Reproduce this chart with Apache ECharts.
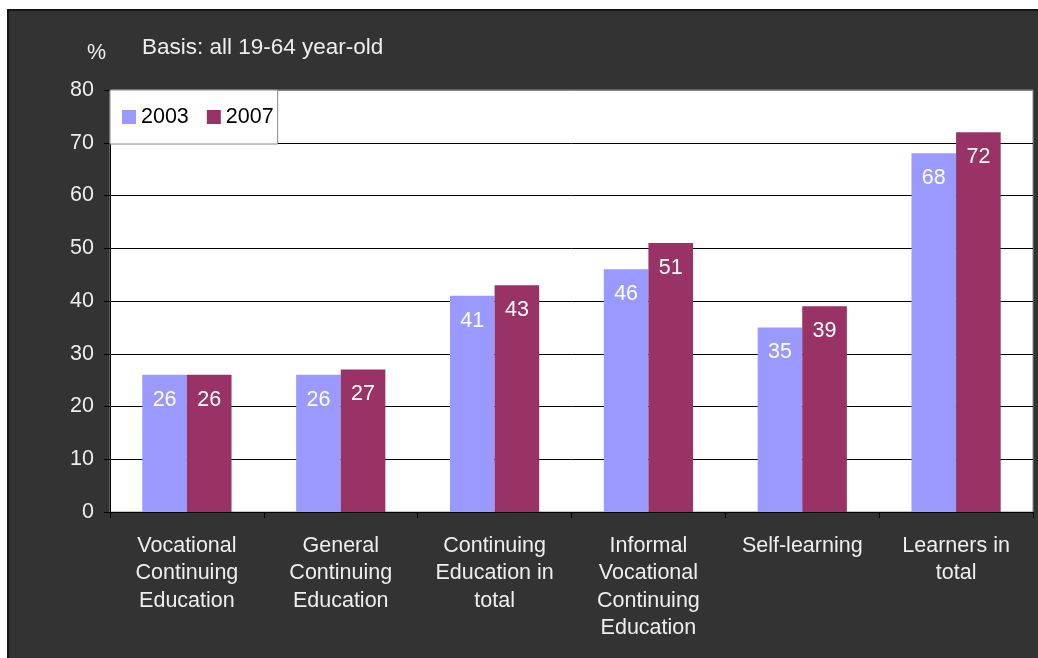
<!DOCTYPE html>
<html>
<head>
<meta charset="utf-8">
<script src="https://cdn.jsdelivr.net/npm/echarts@6/dist/echarts.min.js"></script>
<style>
  html, body { margin: 0; padding: 0; background: #ffffff; }
  #frame {
    position: absolute; left: 7px; top: 9px; width: 1031px; height: 649px;
    background: #333333; border-left: 2px solid #151515; border-top: 2px solid #151515;
  }
  #chart { position: absolute; left: 0; top: 0; width: 1038px; height: 658px; }
</style>
</head>
<body>
<div id="frame"></div>
<div id="chart"></div>
<script>
// Participation in learning, share of all 19-64 year-olds (%)
const categories = [
  'Vocational\nContinuing\nEducation',
  'General\nContinuing\nEducation',
  'Continuing\nEducation in\ntotal',
  'Informal\nVocational\nContinuing\nEducation',
  'Self-learning',
  'Learners in\ntotal'
];
const values2003 = [26, 26, 41, 46, 35, 68];
const values2007 = [26, 27, 43, 51, 39, 72];
const seriesNames = ['2003', '2007'];
const yTicks = { min: 0, max: 80, interval: 10 };

const FONT = 'Liberation Sans, Arial, sans-serif';
const LIGHT = '#eeeeee';

// gridlines are black; the one on the top edge is the grey plot border
const gridLineColors = ['#000000', '#000000', '#000000', '#000000', '#000000',
                        '#000000', '#000000', '#000000', '#888888'];

const chart = echarts.init(document.getElementById('chart'), null, { renderer: 'canvas' });

const barLabel = {
  show: true,
  position: 'insideTop',
  distance: 14,
  color: '#ffffff',
  fontSize: 21.5,
  fontFamily: FONT
};

chart.setOption({
  backgroundColor: 'transparent',
  animation: false,
  textStyle: { fontFamily: FONT },
  title: [
    { text: '%', left: 82, top: 37, textStyle: { color: LIGHT, fontSize: 21.5, fontWeight: 'normal', fontFamily: FONT } },
    { text: 'Basis: all 19-64 year-old', left: 137, top: 31, textStyle: { color: LIGHT, fontSize: 22.5, fontWeight: 'normal', fontFamily: FONT } }
  ],
  legend: {
    left: 110, top: 90,
    orient: 'horizontal',
    data: seriesNames,
    icon: 'rect',
    itemWidth: 14, itemHeight: 14, itemGap: 18,
    padding: [16, 4, 16, 12],
    backgroundColor: '#ffffff',
    borderColor: '#888888', borderWidth: 1,
    textStyle: { color: '#000000', fontSize: 21.5, fontFamily: FONT }
  },
  grid: {
    left: 110, top: 90, right: 5, bottom: 146,
    show: true, backgroundColor: '#ffffff', borderColor: '#888888', borderWidth: 1,
    containLabel: false
  },
  xAxis: {
    type: 'category',
    data: categories,
    axisLine: { show: true, lineStyle: { color: '#000000', width: 1 } },
    axisTick: { show: true, length: 6, lineStyle: { color: '#000000' } },
    axisLabel: { color: LIGHT, fontSize: 21.5, lineHeight: 27.5, margin: 20, interval: 0, fontFamily: FONT }
  },
  yAxis: {
    type: 'value',
    min: yTicks.min, max: yTicks.max, interval: yTicks.interval,
    axisLine: { show: true, lineStyle: { color: '#000000', width: 1 } },
    axisTick: { show: true, length: 6, lineStyle: { color: '#000000' } },
    axisLabel: { color: LIGHT, fontSize: 21.5, margin: 16, fontFamily: FONT },
    splitLine: { show: true, lineStyle: { color: gridLineColors, width: 1 } }
  },
  series: [
    {
      name: seriesNames[0], type: 'bar', data: values2003,
      itemStyle: { color: '#9999ff' },
      barGap: '0%', barCategoryGap: '42%',
      label: barLabel
    },
    {
      name: seriesNames[1], type: 'bar', data: values2007,
      itemStyle: { color: '#993366' },
      barGap: '0%', barCategoryGap: '42%',
      label: barLabel
    }
  ]
});
</script>
</body>
</html>
